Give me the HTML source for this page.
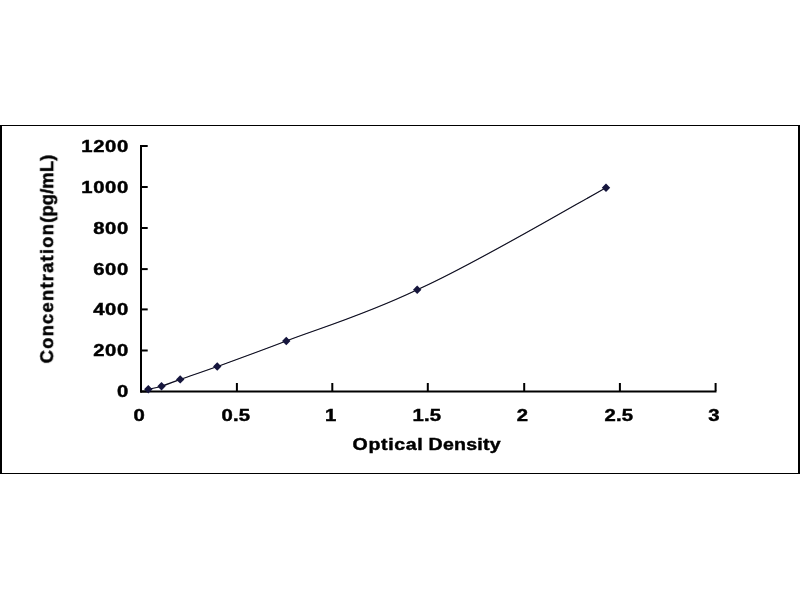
<!DOCTYPE html>
<html><head><meta charset="utf-8"><title>Standard Curve</title>
<style>
html,body{margin:0;padding:0;background:#fff;}
body{width:800px;height:600px;overflow:hidden;}
svg{display:block;}
.t{font-family:"Liberation Sans",Arial,Helvetica,sans-serif;font-weight:bold;fill:#000;stroke:#000;stroke-width:0.45px;}
.d{font-size:16.9px;letter-spacing:0.52px;}
.x{font-size:16.9px;letter-spacing:0.15px;}
.w{font-size:17px;}
.w1{letter-spacing:0.57px;}
.w2{letter-spacing:0.22px;}
.v{font-size:17.6px;}
.v1{letter-spacing:1.12px;}
.v2{letter-spacing:0.09px;}
</style></head><body>
<svg width="800" height="600" viewBox="0 0 800 600">
<defs><filter id="soft" x="0" y="0" width="800" height="600" filterUnits="userSpaceOnUse"><feGaussianBlur stdDeviation="0.45"/></filter></defs>
<rect x="1" y="125.5" width="798" height="348" fill="#fff" stroke="#000" stroke-width="1"/>
<rect x="0" y="125" width="2" height="349" fill="#000"/>
<rect x="798" y="125" width="2" height="349" fill="#000"/>
<rect x="140" y="145" width="2" height="247.5" fill="#000"/>
<rect x="140" y="390.5" width="576.5" height="2" fill="#000"/>
<rect x="141" y="390.50" width="6.7" height="2" fill="#000"/>
<rect x="141" y="349.50" width="6.7" height="2" fill="#000"/>
<rect x="141" y="308.40" width="6.7" height="2" fill="#000"/>
<rect x="141" y="268.10" width="6.7" height="2" fill="#000"/>
<rect x="141" y="227.00" width="6.7" height="2" fill="#000"/>
<rect x="141" y="186.00" width="6.7" height="2" fill="#000"/>
<rect x="141" y="145.00" width="6.7" height="2" fill="#000"/>
<rect x="235.90" y="383" width="2" height="8" fill="#000"/>
<rect x="331.30" y="383" width="2" height="8" fill="#000"/>
<rect x="426.80" y="383" width="2" height="8" fill="#000"/>
<rect x="523.20" y="383" width="2" height="8" fill="#000"/>
<rect x="618.90" y="383" width="2" height="8" fill="#000"/>
<rect x="714.60" y="383" width="2" height="8" fill="#000"/>
<g filter="url(#soft)">
<path d="M148.30 389.30 C150.50 388.78 156.18 387.85 161.50 386.20 C166.82 384.55 170.91 382.68 180.20 379.40 C189.49 376.12 199.57 372.90 217.25 366.50 C234.93 360.10 252.93 353.78 286.25 341.00 C319.57 328.22 363.91 315.35 417.20 289.80 C470.49 266.45 574.53 205.12 606.00 187.70" fill="none" stroke="#08081a" stroke-width="1.15"/>
<path d="M144.10 389.30 L148.30 385.10 L152.50 389.30 L148.30 393.50Z" fill="#14143c"/>
<path d="M157.30 386.20 L161.50 382.00 L165.70 386.20 L161.50 390.40Z" fill="#14143c"/>
<path d="M176.00 379.40 L180.20 375.20 L184.40 379.40 L180.20 383.60Z" fill="#14143c"/>
<path d="M213.05 366.50 L217.25 362.30 L221.45 366.50 L217.25 370.70Z" fill="#14143c"/>
<path d="M282.05 341.00 L286.25 336.80 L290.45 341.00 L286.25 345.20Z" fill="#14143c"/>
<path d="M413.00 289.80 L417.20 285.60 L421.40 289.80 L417.20 294.00Z" fill="#14143c"/>
<path d="M601.80 187.70 L606.00 183.50 L610.20 187.70 L606.00 191.90Z" fill="#14143c"/>
<text class="t d" text-anchor="end" transform="translate(128.90 397.00) scale(1.200 1)">0</text>
<text class="t d" text-anchor="end" transform="translate(128.90 356.00) scale(1.200 1)">200</text>
<text class="t d" text-anchor="end" transform="translate(128.90 314.90) scale(1.200 1)">400</text>
<text class="t d" text-anchor="end" transform="translate(128.90 274.60) scale(1.200 1)">600</text>
<text class="t d" text-anchor="end" transform="translate(128.90 233.50) scale(1.200 1)">800</text>
<text class="t d" text-anchor="end" transform="translate(128.90 192.50) scale(1.200 1)">1000</text>
<text class="t d" text-anchor="end" transform="translate(128.90 152.40) scale(1.200 1)">1200</text>
<text class="t x" text-anchor="middle" transform="translate(139.30 421.00) scale(1.200 1)">0</text>
<text class="t x" text-anchor="middle" transform="translate(235.90 421.00) scale(1.200 1)">0.5</text>
<text class="t x" text-anchor="middle" transform="translate(330.60 421.00) scale(1.200 1)">1</text>
<text class="t x" text-anchor="middle" transform="translate(426.80 421.00) scale(1.200 1)">1.5</text>
<text class="t x" text-anchor="middle" transform="translate(522.50 421.00) scale(1.200 1)">2</text>
<text class="t x" text-anchor="middle" transform="translate(618.90 421.00) scale(1.200 1)">2.5</text>
<text class="t x" text-anchor="middle" transform="translate(713.90 421.00) scale(1.200 1)">3</text>
<text class="t w" transform="translate(352.6 450.2) scale(1.150 1)"><tspan class="w1">Optical </tspan><tspan class="w2" x="66.09">Density</tspan></text>
<text class="t v" text-anchor="middle" transform="translate(53.2 259.0) rotate(-90) scale(1.050 1)"><tspan class="v1">Concentration</tspan><tspan class="v2">(pg/mL)</tspan></text>
</g>
</svg>
</body></html>
